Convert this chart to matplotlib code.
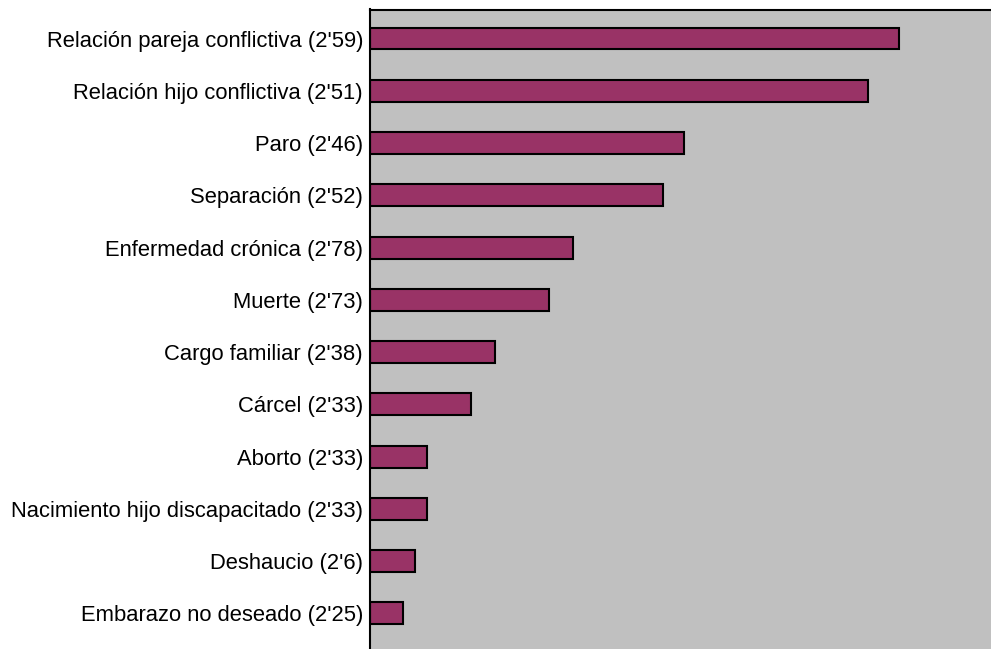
import numpy as np
from matplotlib import pyplot as plt

labels = [
    "Relación pareja conflictiva (2'59)",
    "Relación hijo conflictiva (2'51)",
    "Paro (2'46)",
    "Separación (2'52)",
    "Enfermedad crónica (2'78)",
    "Muerte (2'73)",
    "Cargo familiar (2'38)",
    "Cárcel (2'33)",
    "Aborto (2'33)",
    "Nacimiento hijo discapacitado (2'33)",
    "Deshaucio (2'6)",
    "Embarazo no deseado (2'25)",
]
values = [94.5, 88.9, 56.1, 52.3, 36.3, 32.0, 22.3, 18.0, 10.2, 10.2, 8.0, 5.9]

plt.rcParams['font.family'] = ['Liberation Sans', 'DejaVu Sans']

fig = plt.figure(figsize=(9.91, 6.49), dpi=100)
ax = fig.add_axes([370 / 991, 0, 1 - 370 / 991, 1 - 9.5 / 649])
ax.set_facecolor("#c0c0c0")

y = np.arange(len(labels))
ax.barh(y, values, height=0.42, color="#993366", edgecolor="black", linewidth=1.5)

ax.set_xlim(0, 621 / 5.6)
ax.set_ylim(11.68, -0.555)
ax.set_yticks(y)
ax.set_yticklabels(labels, fontsize=15.8)
ax.set_xticks([])
ax.tick_params(axis="y", length=0, pad=5)
for side in ("left", "top"):
    ax.spines[side].set_linewidth(1.5)
for side in ("right", "bottom"):
    ax.spines[side].set_visible(False)

plt.savefig("out.png")
